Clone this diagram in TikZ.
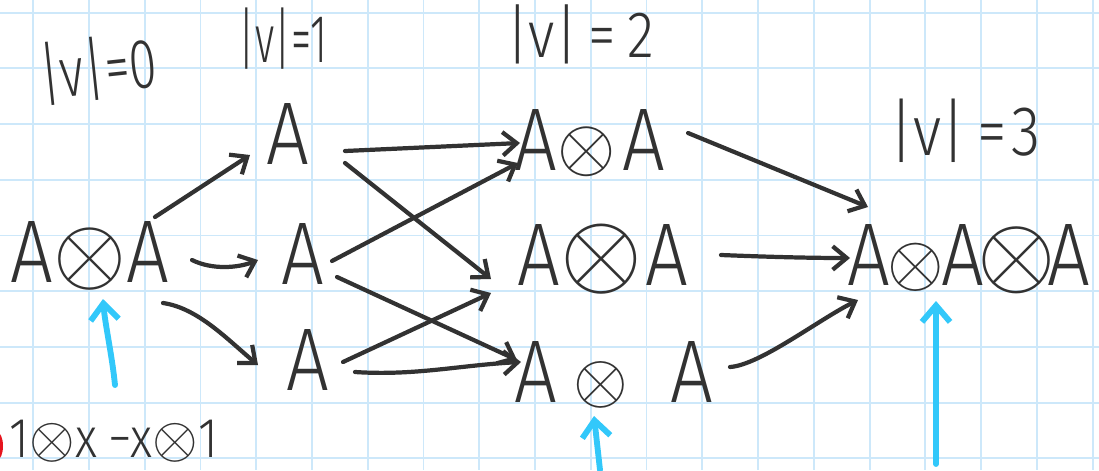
\documentclass[tikz,border=0pt]{standalone}
\usepackage{graphicx}
\usepackage{fontspec}
\usetikzlibrary{arrows.meta,calc}
\newfontfamily\hand{Fira Sans Light}[FakeStretch=0.85]
\newfontfamily\handn{Fira Sans Light}[FakeStretch=0.72]
\newfontfamily\handnn{Fira Sans Light}[FakeStretch=0.6]
\newcommand\ox[1]{\scalebox{#1}{\fontsize{10}{12}\selectfont$\otimes$}}
\definecolor{ink}{RGB}{50,50,50}
\definecolor{gridc}{RGB}{205,232,250}
\definecolor{hl}{RGB}{50,200,250}
\definecolor{redm}{RGB}{230,20,30}
\begin{document}
\begin{tikzpicture}[x=0.03cm,y=-0.03cm,
  big/.style={anchor=base,inner sep=0pt,text=ink,font=\hand\fontsize{76}{76}\selectfont},
  lv/.style={anchor=base,inner sep=0pt,text=ink,font=\hand\fontsize{56}{56}\selectfont},
  arr/.style={draw=ink,line width=3.6pt,line cap=round,line join=round,-{Straight Barb[length=12pt,width=20pt,line width=3.6pt]}},
  barr/.style={draw=hl,line width=5pt,line cap=round,line join=round,-{Straight Barb[length=14pt,width=24pt,line width=5pt]}}]
\fill[white] (0,0) rectangle (1099,470);
\useasboundingbox (0,0) rectangle (1099,470);
\begin{scope}
\clip (0,0) rectangle (1099,470);
\foreach \i in {0,...,19} \draw[gridc,line width=1.6pt] ({33.3+55.75*\i},0) -- ({33.3+55.75*\i},470);
\foreach \j in {0,...,8} \draw[gridc,line width=1.6pt] (0,{12.7+55.7*\j}) -- (1099,{12.7+55.7*\j});
\fill[redm] (-3,446) ellipse (6 and 14);
\end{scope}

% level labels
\node[lv,rotate=6,font=\handn\fontsize{60}{60}\selectfont] (lv0) at (101,93) {|v|=0};
\node[lv,font=\handnn\fontsize{58}{58}\selectfont] (lv1) at (283,62) {|v|=1};
\node[lv] (lv2) at (580,57) {|v|\,=\,2};
\node[lv,font=\hand\fontsize{60}{60}\selectfont] (lv3) at (965,155) {|v|\hspace{10pt}=\hspace{4pt}3};

% vertices
\node[big] (l0) at (90,282) {A\ox{8.0}A};
\node[big] (l1t) at (288,164) {A};
\node[big] (l1m) at (303,284) {A};
\node[big] (l1b) at (308,390) {A};
\node[big] (l2t) at (590,170) {A\ox{6.4}\hspace{6pt}A};
\node[big] (l2m) at (603,285) {A\ox{9.0}\hspace{3pt}A};
\node[big] (l2b) at (614,402) {A\hspace{14pt}\ox{6.0}\hspace{36pt}A};
\node[big] (l3) at (969,285) {A\hspace{-2pt}\ox{6.2}\hspace{-2pt}A\hspace{-6pt}\ox{8.6}\hspace{-7pt}A};

% formula
\node[lv,font=\hand\fontsize{48}{48}\selectfont] (eq) at (114,457) {1\ox{5.0}x\hspace{10pt}−x\ox{5.0}1};

% arrows level 0 -> 1
\draw[arr] ($(l0.base)+(65,-65)$) -- ($(l1t.base)+(-38,-9)$);
\draw[arr] ($(l0.base)+(102,-22)$) .. controls +(20,10) and +(-20,8) .. ($(l1m.base)+(-45,-24)$);
\draw[arr] ($(l0.base)+(73,21)$) .. controls +(35,5) and +(-30,-25) .. ($(l1b.base)+(-50,-25)$);

% arrows level 1 -> 2
\draw[arr] ($(l1t.base)+(57,-13)$) -- ($(l2t.base)+(-70,-27)$);
\draw[arr] ($(l1t.base)+(57,-1)$) -- ($(l2m.base)+(-112,-6)$);
\draw[arr] ($(l1m.base)+(29,-23)$) -- ($(l2t.base)+(-72,-7)$);
\draw[arr] ($(l1m.base)+(34,-7)$) -- ($(l2b.base)+(-97,-42)$);
\draw[arr] ($(l1b.base)+(35,-28)$) -- ($(l2m.base)+(-112,8)$);
\draw[arr] ($(l1b.base)+(47,-18)$) .. controls +(60,4) and +(-60,3) .. ($(l2b.base)+(-93,-40)$);

% arrows level 2 -> 3
\draw[arr] ($(l2t.base)+(98,-37)$) -- ($(l3.base)+(-101,-78)$);
\draw[arr] ($(l2m.base)+(118,-30)$) .. controls +(50,2) and +(-40,0) .. ($(l3.base)+(-119,-27)$);
\draw[arr] ($(l2b.base)+(116,-35)$) .. controls +(30,-2) and +(-40,20) .. ($(l3.base)+(-111,15)$);

% blue arrows
\coordinate (t0) at (115,385);
\coordinate (t2) at (600,470);
\coordinate (t3) at (936,464);
\draw[barr] (t0) .. controls +(-3,-30) and +(2,25) .. ($(l0.base)+(13,17)$);
\draw[barr] (t2) -- ($(l2b.base)+(-20,14)$);
\draw[barr] (t3) -- ($(l3.base)+(-33,16)$);
\end{tikzpicture}
\end{document}
